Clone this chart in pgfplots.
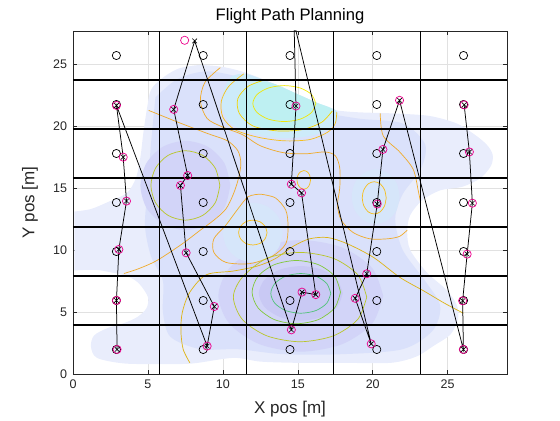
\documentclass[border=0pt]{standalone}
\usepackage{pgfplots}
\pgfplotsset{compat=1.18}
\usepackage{fontspec}
\setmainfont{Liberation Sans}
\definecolor{blobA}{RGB}{233,237,252}
\definecolor{blobB}{RGB}{218,225,251}
\definecolor{lavA}{RGB}{210,212,248}
\definecolor{lavB}{RGB}{201,201,244}
\definecolor{cyA}{RGB}{205,235,250}
\definecolor{cyB}{RGB}{190,240,242}
\definecolor{ltcy}{RGB}{214,230,250}
\definecolor{cyel}{RGB}{240,230,10}
\definecolor{cyel2}{RGB}{240,212,0}
\definecolor{corgl}{RGB}{245,190,30}
\definecolor{corg}{RGB}{240,170,40}
\definecolor{corgy}{RGB}{222,180,20}
\definecolor{colive}{RGB}{185,198,40}
\definecolor{cgreen}{RGB}{130,200,60}
\definecolor{cteal}{RGB}{80,195,120}
\definecolor{gridg}{RGB}{225,225,225}
\definecolor{axc}{RGB}{38,38,38}
\begin{document}
\begin{tikzpicture}
\begin{axis}[
  name=ax,
  width=434pt, height=343pt, scale only axis,
  xmin=0, xmax=28.96, ymin=0, ymax=27.65,
  xtick={0,5,...,25}, ytick={0,5,...,25},
  grid=major, major grid style={draw=gridg, line width=0.5pt},
  tick align=inside, major tick length=4pt,
  axis line style={draw=axc, line width=0.6pt},
  tick style={axc, line width=0.5pt},
  /pgf/number format/assume math mode=true,
  ticklabel style={font=\fontsize{12.5}{14}\selectfont, text=axc},
  xticklabel style={anchor=center, yshift=-10pt},
  yticklabel style={anchor=east, xshift=-2.5pt},
  every axis x label/.style={at={(axis description cs:0.5,0)}, anchor=center, yshift=-35pt, font=\fontsize{17}{20}\selectfont, text=axc},
  every axis y label/.style={at={(axis description cs:0,0.5)}, anchor=center, xshift=-43pt, rotate=90, font=\fontsize{17}{20}\selectfont, text=axc},
  xlabel={X pos [m]}, ylabel={Y pos [m]},
  title={Flight Path Planning},
  every axis title/.style={at={(axis description cs:0.5,1)}, anchor=base, yshift=10.3pt, font=\fontsize{16.6}{19}\selectfont, text=black},
  clip=true,
]
% ---- shaded surface (approximated) ----
\addplot[draw=none, fill=blobA, smooth, tension=0.5] coordinates {
(0.1,8.35)(1.5,8.4)(2.5,8.2)(3.6,7.9)(4.4,7.3)(5.0,6.2)(4.9,5.3)(4.3,4.6)(3.4,4.1)(2.3,3.7)(1.4,3.1)(1.2,2.2)(1.6,1.3)(3.4,0.85)(6,0.8)(8,0.85)(10.7,1.3)(12.5,1.0)(15,0.9)(18,0.9)(21.2,0.9)(22.9,1.4)(24.1,2.3)(25.2,3.2)(25.7,4.5)(25.6,5.6)(24.9,6.8)(23.6,8.2)(22.5,10.0)(22.3,11.5)(22.5,12.8)(23.3,14.0)(24.5,14.8)(26.0,15.1)(27.2,15.8)(27.9,16.8)(28.0,17.7)(27.6,18.5)(26.8,19.3)(25.6,20.2)(23.8,20.8)(21.5,21.0)(19.0,21.1)(17.4,21.3)(16.2,21.9)(14.9,22.6)(13.4,23.4)(11.5,24.3)(10.0,24.75)(8.4,24.9)(7.0,24.6)(5.9,23.8)(5.2,22.9)(4.95,21.5)(4.7,19.5)(4.5,17.5)(4.2,15.8)(3.6,14.6)(2.4,13.9)(1.2,13.3)(0.1,13.1)
} -- cycle;
\addplot[draw=none, fill=blobB, smooth, tension=0.5] coordinates {
(5.5,22.3)(7,23.8)(9,24.4)(11.5,23.8)(13.5,22.8)(16,21.3)(19,20.6)(22,20.2)(23.5,18.5)(23.2,16.5)(22.0,14.5)(21.5,12.5)(22.0,10.0)(23.5,7.5)(24.5,5.5)(24.0,3.5)(22,2)(18,1.6)(14,1.6)(11,2.0)(8.5,2.0)(6.5,3.0)(6,5)(6,7.5)(5.2,9.5)(4.8,12)(5,15)(5.2,18.5)(5.5,22.3)
} -- cycle;
\addplot[draw=none, fill=lavA, smooth] coordinates {
(20.7,6.3)(19.96,8.55)(17.95,10.2)(15.2,10.8)(12.45,10.2)(10.44,8.55)(9.7,6.3)(10.44,4.05)(12.45,2.4)(15.2,1.8)(17.95,2.4)(19.96,4.05)(20.7,6.3)
} -- cycle;
\addplot[draw=none, fill=lavB, smooth] coordinates {
(18.0,6.5)(17.63,7.6)(16.6,8.41)(15.2,8.7)(13.8,8.41)(12.78,7.6)(12.4,6.5)(12.78,5.4)(13.8,4.6)(15.2,4.3)(16.6,4.6)(17.63,5.4)(18.0,6.5)
} -- cycle;
\addplot[draw=none, fill=lavA, smooth] coordinates {
(10.5,15.2)(10.1,17.0)(9.0,18.32)(7.5,18.8)(6.0,18.32)(4.9,17.0)(4.5,15.2)(4.9,13.4)(6.0,12.08)(7.5,11.6)(9.0,12.08)(10.1,13.4)(10.5,15.2)
} -- cycle;
\addplot[draw=none, fill=ltcy, smooth] coordinates {
(21.8,14.3)(21.59,15.4)(21.0,16.2)(20.2,16.5)(19.4,16.2)(18.81,15.4)(18.6,14.3)(18.81,13.2)(19.4,12.4)(20.2,12.1)(21.0,12.4)(21.59,13.2)(21.8,14.3)
} -- cycle;
\addplot[draw=none, fill=ltcy, smooth] coordinates {
(14.0,11.4)(13.73,12.6)(13.0,13.48)(12.0,13.8)(11.0,13.48)(10.27,12.6)(10.0,11.4)(10.27,10.2)(11.0,9.32)(12.0,9.0)(13.0,9.32)(13.73,10.2)(14.0,11.4)
} -- cycle;
\addplot[draw=none, fill=cyA, smooth] coordinates {
(10.6,24.0)(10.2,23.3)(9.9,21.8)(10.5,20.2)(12.3,19.3)(14.2,19.0)(16.2,19.3)(17.5,20.2)(17.6,21.2)(16.2,21.9)(14.9,22.6)(13.4,23.4)(11.5,24.2)(10.6,24.0)
} -- cycle;
\addplot[draw=none, fill=cyB, smooth] coordinates {
(12.3,23.6)(11.2,22.5)(11.1,21.2)(12.0,20.1)(13.6,19.7)(15.4,19.8)(16.7,20.5)(17.3,21.3)(16.2,21.9)(14.9,22.6)(13.4,23.4)(12.3,23.6)
} -- cycle;
% ---- contour lines ----
\addplot[cyel, line width=0.7pt, smooth] coordinates {
(16.2,21.8)(15.92,22.53)(15.15,23.06)(14.1,23.25)(13.05,23.06)(12.28,22.53)(12.0,21.8)(12.28,21.08)(13.05,20.54)(14.1,20.35)(15.15,20.54)(15.92,21.08)(16.2,21.8)};
\addplot[cyel2, line width=0.7pt, smooth] coordinates {
(12.9,23.75)(11.7,23.2)(11.0,22.2)(11.1,21.0)(12.0,20.0)(13.6,19.6)(15.3,19.7)(16.6,20.3)(17.3,21.2)};
\addplot[corgl, line width=0.7pt, smooth] coordinates {
(11.4,24.2)(10.4,23.2)(9.9,22.0)(10.0,20.7)(10.8,19.7)(12.3,19.1)(14.05,18.8)(15.8,18.9)(17.0,19.5)(17.5,20.2)(17.6,21.1)};
\addplot[corg, line width=0.7pt, smooth] coordinates {
(9.83,24.7)(8.8,23.5)(8.5,22.0)(8.95,20.6)(10.0,19.9)(11.3,19.3)(12.5,18.4)(14.0,17.85)(15.5,17.75)(16.8,17.9)(17.5,17.6)(17.8,16.6)(17.8,15.0)(17.65,13.6)(17.9,12.4)(18.7,11.4)(19.8,10.9)(21.0,10.9)(21.8,11.1)(22.3,11.6)};
\addplot[corg, line width=0.7pt, smooth] coordinates {
(5.05,21.25)(7.0,20.3)(8.95,19.4)(10.3,18.8)(11.0,18.0)(11.2,17.0)(11.05,15.8)(10.7,14.5)(10.2,13.3)(9.4,12.4)(8.5,11.6)(7.3,10.5)(5.6,9.15)(4.4,8.5)(3.4,8.1)};
\addplot[corg, line width=0.7pt, smooth] coordinates {
(12.5,14.5)(13.5,14.2)(14.2,13.2)(14.35,11.9)(14.2,10.5)(13.3,9.5)(11.8,8.9)(10.2,9.0)(9.4,9.8)(9.4,10.9)(10.2,12.0)(11.0,13.3)(11.7,14.3)(12.5,14.5)};
\addplot[corgl, line width=0.7pt, smooth] coordinates {
(12.95,11.4)(12.82,11.9)(12.48,12.27)(12.0,12.4)(11.52,12.27)(11.18,11.9)(11.05,11.4)(11.18,10.9)(11.52,10.53)(12.0,10.4)(12.48,10.53)(12.82,10.9)(12.95,11.4)};
\addplot[corgl, line width=0.7pt, smooth] coordinates {
(15.85,15.65)(15.79,16.03)(15.63,16.3)(15.4,16.4)(15.18,16.3)(15.01,16.03)(14.95,15.65)(15.01,15.28)(15.18,15.0)(15.4,14.9)(15.63,15.0)(15.79,15.28)(15.85,15.65)};
\addplot[corgl, line width=0.7pt, smooth] coordinates {
(20.9,14.2)(20.79,14.85)(20.5,15.33)(20.1,15.5)(19.7,15.33)(19.41,14.85)(19.3,14.2)(19.41,13.55)(19.7,13.07)(20.1,12.9)(20.5,13.07)(20.79,13.55)(20.9,14.2)};
\addplot[corg, line width=0.7pt, smooth] coordinates {
(20.5,21.0)(20.7,19.2)(21.8,17.9)(22.7,16.5)(23.05,14.7)(23.2,13.8)};
\addplot[corgy, line width=0.7pt, smooth] coordinates {
(7.8,0.9)(7.35,2.0)(7.2,3.5)(7.3,5.0)(7.8,6.6)(8.9,8.0)(10.7,8.3)(12.3,8.7)(13.5,9.3)(14.7,10.3)(15.8,10.9)(17.0,11.0)(18.3,10.5)(20.05,9.4)(21.8,7.8)(23.4,6.7)(24.8,5.7)(26.05,4.9)};
\addplot[colive, line width=0.7pt, smooth] coordinates {
(19.6,6.2)(19.0,8.0)(17.38,9.32)(15.15,9.8)(12.93,9.32)(11.3,7.8)(10.7,6.2)(11.3,4.4)(12.93,3.08)(15.15,2.6)(17.38,3.08)(19.0,4.4)(19.6,6.2)};
\addplot[colive, line width=0.7pt, smooth] coordinates {
(9.8,15.2)(9.49,16.6)(8.65,17.63)(7.5,18.0)(6.35,17.63)(5.51,16.6)(5.2,15.2)(5.51,13.8)(6.35,12.78)(7.5,12.4)(8.65,12.78)(9.49,13.8)(9.8,15.2)};
\addplot[cgreen, line width=0.7pt, smooth] coordinates {
(17.85,6.6)(17.46,7.88)(16.38,8.81)(14.9,9.15)(13.43,8.81)(12.35,7.88)(11.95,6.6)(12.35,5.33)(13.43,4.39)(14.9,4.05)(16.38,4.39)(17.46,5.33)(17.85,6.6)};
\addplot[cteal, line width=0.7pt, smooth] coordinates {
(17.2,6.5)(16.93,7.3)(16.2,7.89)(15.2,8.1)(14.2,7.89)(13.47,7.3)(13.2,6.5)(13.47,5.7)(14.2,5.11)(15.2,4.9)(16.2,5.11)(16.93,5.7)(17.2,6.5)};
% ---- cell grid ----
\addplot[black, line width=1.1pt, unbounded coords=jump] coordinates {
(5.792,0)(5.792,27.65) (nan,nan)
(11.584,0)(11.584,27.65) (nan,nan)
(17.376,0)(17.376,27.65) (nan,nan)
(23.168,0)(23.168,27.65) (nan,nan)
(0,3.95)(28.96,3.95) (nan,nan)
(0,7.9)(28.96,7.9) (nan,nan)
(0,11.85)(28.96,11.85) (nan,nan)
(0,15.8)(28.96,15.8) (nan,nan)
(0,19.75)(28.96,19.75) (nan,nan)
(0,23.7)(28.96,23.7)};
% ---- cell centres ----
\addplot[only marks, mark=o, mark size=4.1pt, mark options={black, line width=0.7pt}] coordinates {
(2.896,1.975)(2.896,5.925)(2.896,9.875)(2.896,13.825)(2.896,17.775)(2.896,21.725)(2.896,25.675)
(8.688,1.975)(8.688,5.925)(8.688,9.875)(8.688,13.825)(8.688,17.775)(8.688,21.725)(8.688,25.675)
(14.48,1.975)(14.48,5.925)(14.48,9.875)(14.48,13.825)(14.48,17.775)(14.48,21.725)(14.48,25.675)
(20.27,1.975)(20.27,5.925)(20.27,9.875)(20.27,13.825)(20.27,17.775)(20.27,21.725)(20.27,25.675)
(26.06,1.975)(26.06,5.925)(26.06,9.875)(26.06,13.825)(26.06,17.775)(26.06,21.725)(26.06,25.675)};
% ---- flight path ----
\addplot[black, line width=0.75pt, mark=none] coordinates {
(2.94,1.98)(2.9,5.93)(3.06,10.04)(3.57,13.94)(3.35,17.48)(2.9,21.65)(8.95,2.25)(9.43,5.44)(7.55,9.77)(7.17,15.2)(7.65,16.0)(6.72,21.33)(8.12,26.85)(14.57,3.56)(15.28,6.6)(16.2,6.4)(15.25,14.6)(14.57,15.3)(14.88,21.6)(14.75,28.3)(19.9,2.43)(18.83,6.1)(19.6,8.08)(20.3,13.7)(20.68,18.1)(21.79,22.06)(26.05,1.98)(26.0,5.9)(26.3,9.66)(26.65,13.77)(26.45,17.9)(26.1,21.7)};
\addplot[only marks, mark=o, mark size=4.1pt, mark options={magenta, line width=0.7pt}] coordinates {
(2.94,1.98)(2.9,5.93)(3.06,10.04)(3.57,13.94)(3.35,17.48)(2.9,21.65)(8.95,2.25)(9.43,5.44)(7.55,9.77)(7.17,15.2)(7.65,16.0)(6.72,21.33)(7.45,26.9)(14.57,3.56)(15.28,6.6)(16.2,6.4)(15.25,14.6)(14.57,15.3)(14.88,21.6)(19.9,2.43)(18.83,6.1)(19.6,8.08)(20.3,13.7)(20.68,18.1)(21.79,22.06)(26.05,1.98)(26.0,5.9)(26.3,9.66)(26.65,13.77)(26.45,17.9)(26.1,21.7)};
\addplot[only marks, mark=x, mark size=3.3pt, mark options={black, line width=0.6pt}] coordinates {
(2.94,1.98)(2.9,5.93)(3.06,10.04)(3.57,13.94)(3.35,17.48)(2.9,21.65)(8.95,2.25)(9.43,5.44)(7.55,9.77)(7.17,15.2)(7.65,16.0)(6.72,21.33)(8.12,26.85)(14.57,3.56)(15.28,6.6)(16.2,6.4)(15.25,14.6)(14.57,15.3)(14.88,21.6)(19.9,2.43)(18.83,6.1)(19.6,8.08)(20.3,13.7)(20.68,18.1)(21.79,22.06)(26.05,1.98)(26.0,5.9)(26.3,9.66)(26.65,13.77)(26.45,17.9)(26.1,21.7)};
\end{axis}
\path ([xshift=-73pt,yshift=-46pt]ax.south west) rectangle ([xshift=53pt,yshift=31pt]ax.north east);
\end{tikzpicture}
\end{document}
